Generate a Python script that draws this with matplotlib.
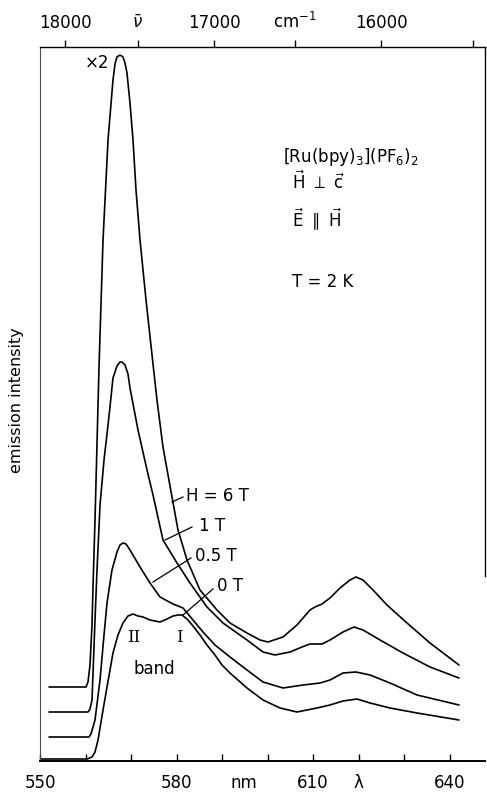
import numpy as np
import matplotlib
matplotlib.use("Agg")
import matplotlib.pyplot as plt

# wavelength (nm) and emission intensity (arb. units, curves offset as in the figure)
nm_6T = [551.98, 560.11, 560.55, 560.99, 561.43, 561.65, 562.09, 562.97, 563.85, 564.95,
         566.04, 566.48, 566.92, 567.58, 568.24, 568.68, 569.12, 569.78, 570.44, 571.10,
         571.98, 573.30, 574.62, 575.71, 577.03, 579.01, 580.33, 582.31, 585.16, 588.90,
         591.76, 595.49, 598.35, 600.11, 603.41, 606.48, 609.34, 610.44, 611.98, 613.74,
         615.93, 618.13, 619.45, 620.99, 623.19, 626.26, 630.66, 635.71, 642.09]
int_6T = [74, 74, 79, 96, 136, 174, 241, 394, 521, 621,
          681, 697, 704, 706, 704, 698, 688, 658, 621, 571,
          521, 461, 406, 361, 314, 264, 231, 201, 171, 151,
          138, 128, 121, 119, 124, 136, 151, 154, 157, 163,
          173, 181, 184, 181, 171, 156, 138, 118, 96]

nm_1T = [551.98, 560.55, 560.99, 561.43, 562.09, 562.53, 563.19, 564.07, 564.95, 565.38,
         566.04, 566.92, 567.58, 568.02, 568.68, 569.34, 569.78, 571.54, 573.52, 574.84,
         577.03, 580.11, 582.97, 586.70, 590.22, 591.76, 595.49, 599.01, 601.65, 604.95,
         607.58, 609.34, 611.98, 613.74, 616.59, 619.01, 620.99, 624.73, 629.78, 635.71,
         642.09]
int_1T = [49, 49, 52, 61, 141, 191, 256, 301, 336, 354,
          383, 395, 399, 399, 396, 387, 373, 331, 291, 266,
          221, 198, 178, 154, 138, 133, 121, 109, 106, 109,
          114, 117, 117, 121, 129, 134, 131, 121, 108, 94,
          83]

nm_05T = [551.98, 560.77, 561.21, 562.09, 563.19, 564.07, 564.73, 565.82, 566.92, 567.58,
          568.24, 568.90, 569.78, 571.98, 574.18, 576.37, 579.23, 581.43, 583.63, 585.82,
          588.46, 591.76, 595.49, 599.01, 603.41, 607.80, 611.54, 613.74, 616.59, 619.45,
          622.53, 626.92, 632.86, 642.09]
int_05T = [24, 24, 27, 41, 81, 126, 158, 191, 209, 216,
           218, 217, 211, 194, 178, 164, 157, 153, 141, 129,
           116, 104, 91, 79, 73, 76, 78, 81, 88, 89,
           86, 78, 66, 56]

nm_0T = [550.00, 560.33, 561.43, 562.09, 562.75, 563.85, 564.73, 566.04, 567.14, 568.24,
         569.34, 570.44, 571.54, 572.64, 574.18, 576.37, 577.91, 579.23, 580.33, 581.21,
         582.31, 583.63, 585.16, 586.70, 588.46, 590.00, 591.76, 595.49, 599.01, 602.75,
         606.48, 610.88, 613.74, 616.59, 619.67, 622.53, 626.92, 632.86, 642.09]
int_0T = [2, 2, 4, 9, 21, 51, 74, 108, 126, 138,
          145, 147, 145, 144, 141, 139, 142, 145, 146, 146,
          142, 135, 126, 116, 106, 96, 88, 73, 61, 53,
          49, 53, 56, 60, 62, 58, 53, 48, 41]

nm_ticks = [550, 560, 570, 580, 590, 600, 610, 620, 630, 640]
nm_labels = ['550', '', '', '580', '', '', '610', 'λ', '', '640']
wn_ticks = [18000, 17500, 17000, 16500, 16000, 15500]
wn_labels = ['18000', r'$\bar{\nu}$', '17000', 'cm$^{-1}$', '16000', '']

W, H = 487, 793
fig = plt.figure(figsize=(W / 100, H / 100), dpi=100)
ax = fig.add_axes([40 / W, 1 - 761 / H, 445 / W, 714 / H])


def fxy(px, py):
    return px / W, 1 - py / H


for xs, ys in [(nm_6T, int_6T), (nm_1T, int_1T), (nm_05T, int_05T), (nm_0T, int_0T)]:
    ax.plot(xs, ys, color='k', lw=1.2, solid_joinstyle='round', solid_capstyle='round')

ax.set_xlim(550, 550 + 445 / 4.55)
ax.set_ylim(0, 714)
ax.set_yticks([])
ax.set_xticks(nm_ticks)
ax.set_xticklabels(nm_labels)
ax.tick_params(axis='x', direction='in', length=5, width=1, pad=9, labelsize=12)

ax.spines['bottom'].set_linewidth(1.4)
ax.spines['left'].set_linewidth(0.8)
ax.spines['left'].set_color('0.3')
ax.spines['top'].set_linewidth(1.0)
ax.spines['right'].set_linewidth(1.0)
ax.spines['right'].set_bounds(185, 714)

top = ax.secondary_xaxis('top', functions=(lambda x: 1e7 / x, lambda x: 1e7 / x))
top.set_xticks(wn_ticks)
top.set_xticklabels(wn_labels)
top.tick_params(direction='out', length=5, width=1, pad=6, labelsize=12)
top.spines['top'].set_visible(False)

# text
fig.text(*fxy(17, 400), 'emission intensity', fontsize=11.5, rotation=90, ha='center', va='center')
fig.text(*fxy(244, 783), 'nm', fontsize=12, ha='center', va='center')
fig.text(*fxy(97, 63), '×2', fontsize=12, ha='center', va='center')
fig.text(*fxy(283, 157), '[Ru(bpy)$_3$](PF$_6$)$_2$', fontsize=12, ha='left', va='center')
fig.text(*fxy(292, 182), r'$\vec{\mathrm{H}}\ \perp\ \vec{\mathrm{c}}$', fontsize=12, ha='left', va='center')
fig.text(*fxy(292, 219), r'$\vec{\mathrm{E}}\ \parallel\ \vec{\mathrm{H}}$', fontsize=12, ha='left', va='center')
fig.text(*fxy(292, 282), 'T = 2 K', fontsize=12, ha='left', va='center')

fig.text(*fxy(186, 496), 'H = 6 T', fontsize=12, ha='left', va='center')
fig.text(*fxy(199, 526), '1 T', fontsize=12, ha='left', va='center')
fig.text(*fxy(195, 556), '0.5 T', fontsize=12, ha='left', va='center')
fig.text(*fxy(217, 586), '0 T', fontsize=12, ha='left', va='center')

for p1, p2 in [((172, 502), (183, 497)), ((165, 540), (192, 527)),
               ((153, 582), (191, 558)), ((183, 615), (213, 589))]:
    (x1, y1), (x2, y2) = fxy(*p1), fxy(*p2)
    fig.add_artist(plt.Line2D([x1, x2], [y1, y2], transform=fig.transFigure, color='k', lw=0.9))

fig.text(*fxy(134, 637), 'II', fontsize=12, family='DejaVu Serif', ha='center', va='center')
fig.text(*fxy(179, 637), 'I', fontsize=12, family='DejaVu Serif', ha='center', va='center')
fig.text(*fxy(154, 669), 'band', fontsize=12, ha='center', va='center')

fig.savefig('out.png', dpi=100)
